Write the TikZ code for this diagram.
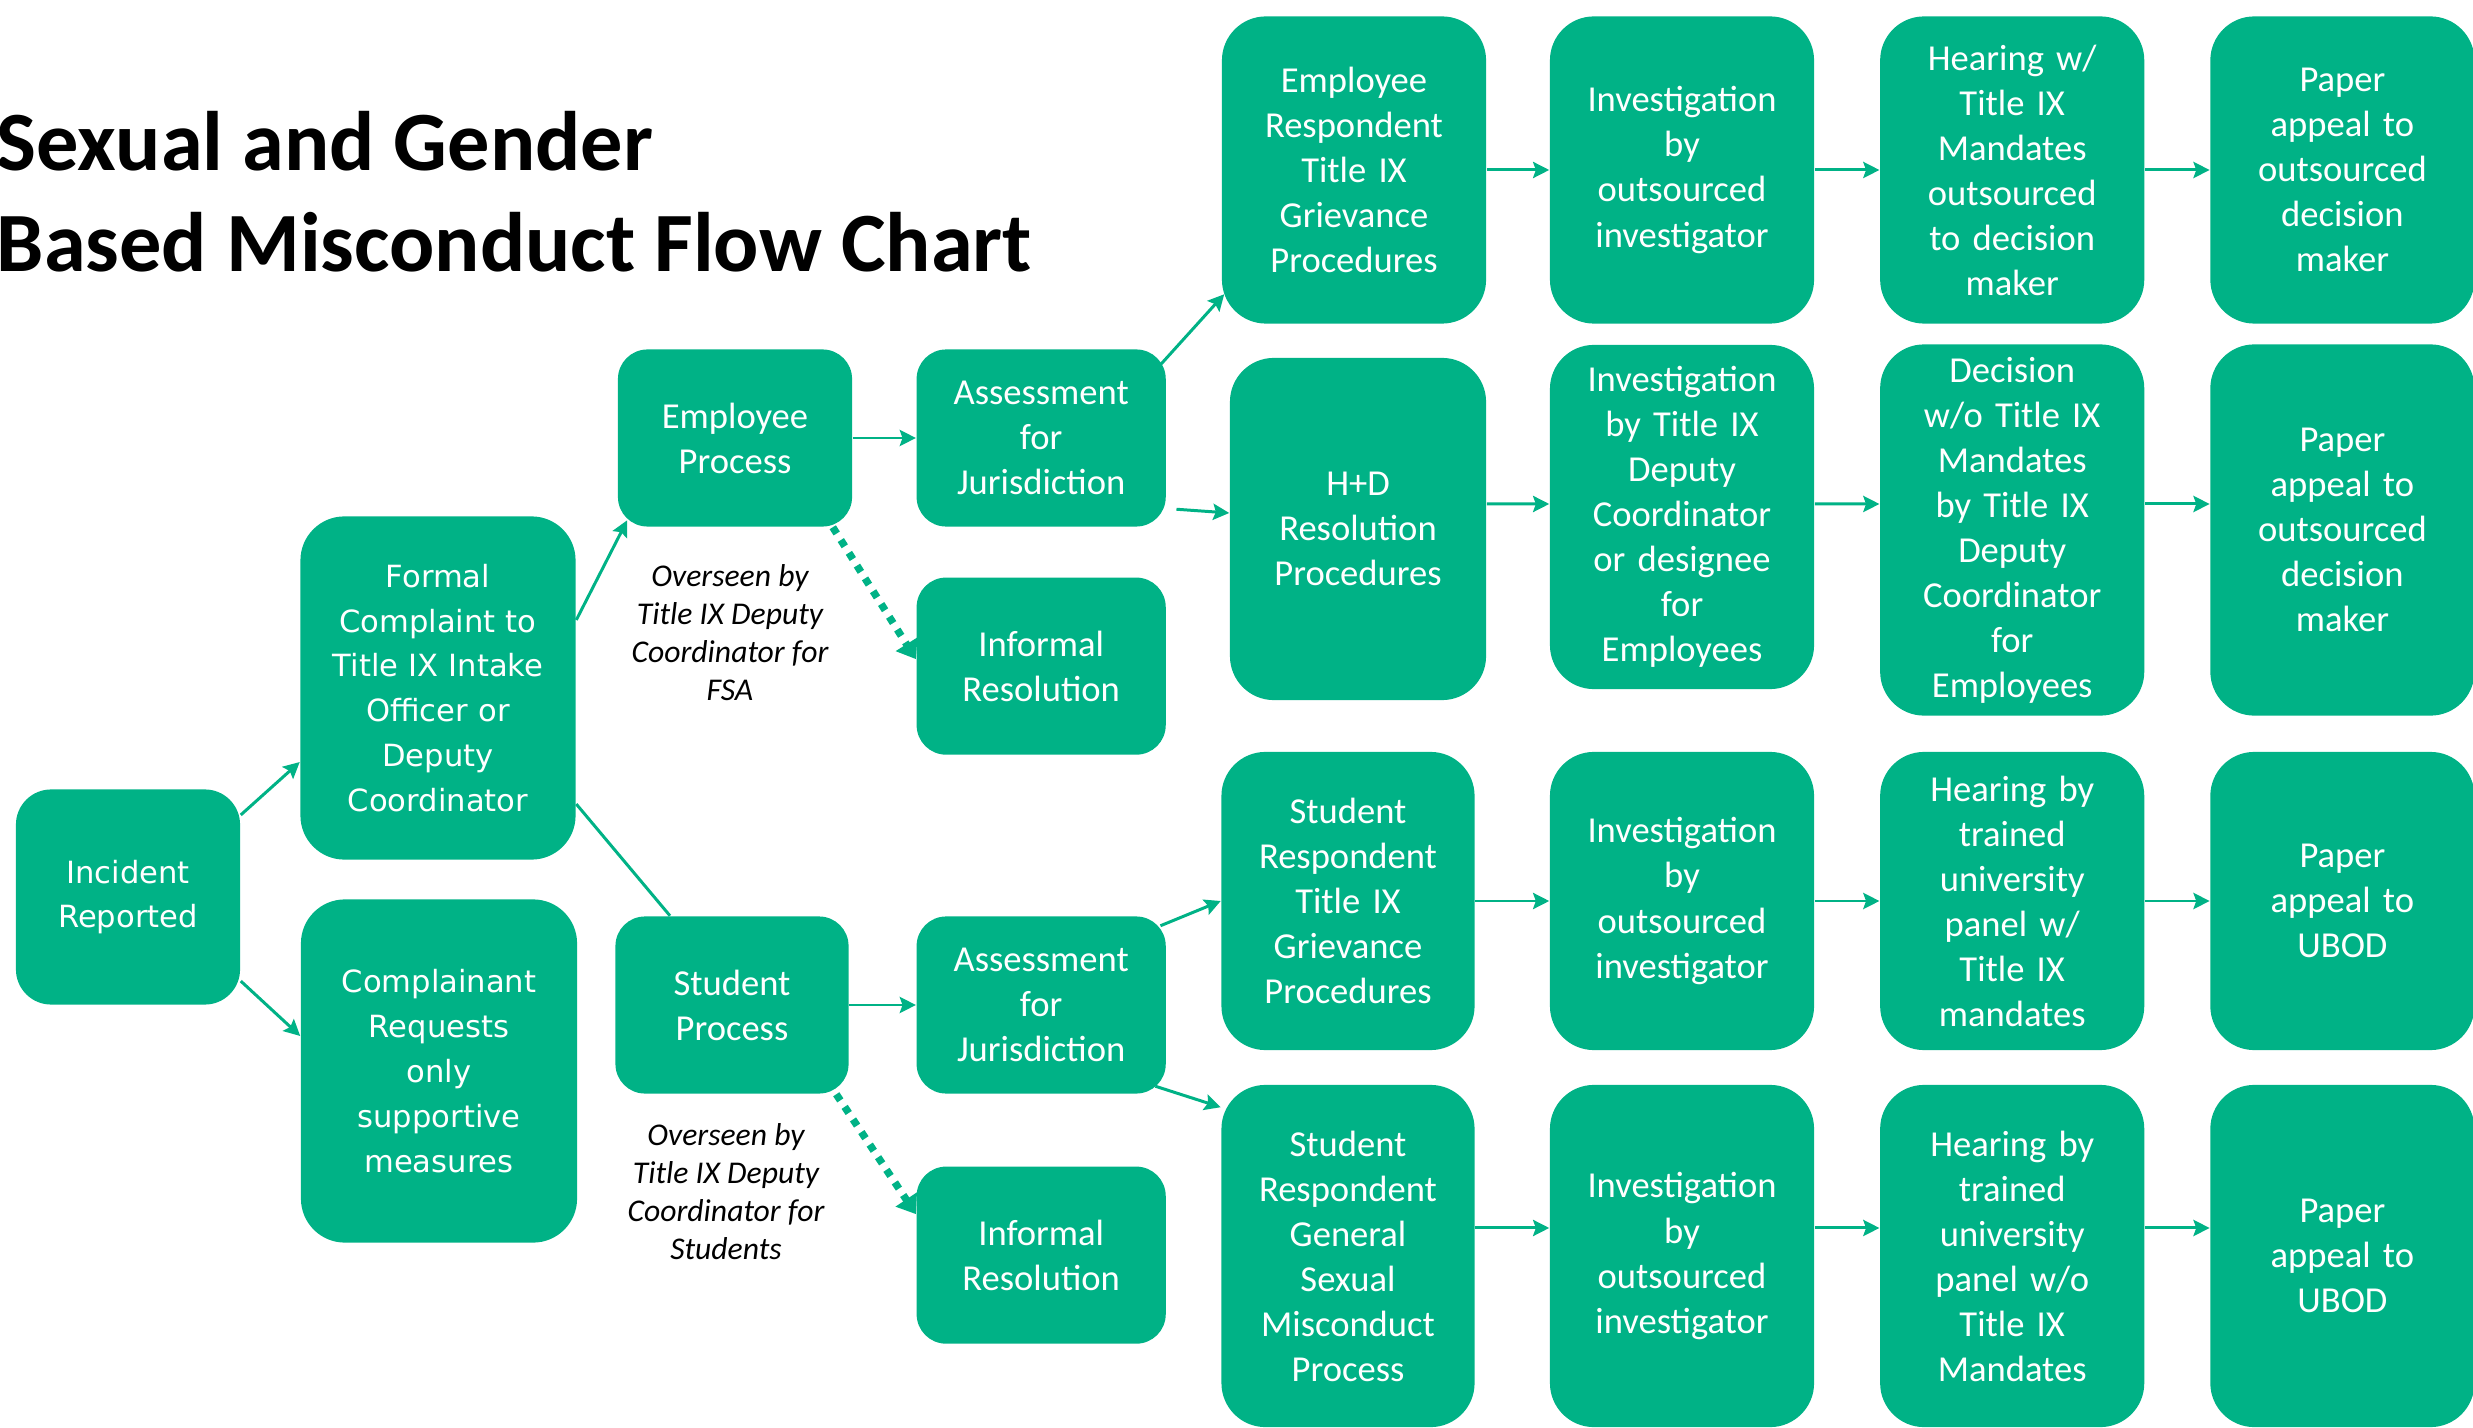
\documentclass[tikz,border=0pt]{standalone}
\usepackage{fontspec}
\setmainfont{Carlito}
\newfontfamily\wideface{DejaVu Sans}
\usetikzlibrary{arrows.meta}
\definecolor{boxgreen}{RGB}{0,178,134}

\begin{document}
\begin{tikzpicture}[x=0.01cm, y=-0.01cm, node distance=3.3cm,
  box/.style={fill=boxgreen, text=white, rounded corners=12.5pt, inner sep=0pt, align=center, font=\fontsize{10.4}{12.8}\selectfont},
  wbox/.style={box, font=\wideface\fontsize{8.7}{12.75}\selectfont},
  small/.style={text width=2.49cm, minimum height=1.77cm, rounded corners=8.4pt},
  tall/.style={text width=2.64cm, minimum height=3.07cm},
  link/.style={draw=boxgreen, line width=0.85pt},
  flow/.style={link, arrows=-{Stealth[length=4.6pt, width=4.6pt, inset=0.8pt]}},
  dots/.style={draw=boxgreen, line width=2.1pt, dash pattern=on 2.1pt off 2.2pt, arrows=-{Triangle[length=5pt, width=7pt]}},
  note/.style={align=center, inner sep=0pt, font=\itshape\fontsize{9}{10.8}\selectfont}]

\useasboundingbox (0,0) rectangle (2473,1428);

\node  (0)[anchor=west, inner sep=0pt, align=left, font=\bfseries\fontsize{24}{28.7}\selectfont] at (-4,192) {Sexual and Gender\\Based Misconduct Flow Chart};

\node  (1)[wbox, text width=2.24cm, minimum height=2.15cm, rounded corners=10pt] at (128,897) {Incident\\Reported};
\node  (2)[wbox, text width=2.75cm, minimum height=3.43cm] at (438,688) {Formal\\Complaint to\\Title IX Intake\\Officer or\\Deputy\\Coordinator};
\node  (3)[wbox, text width=2.76cm, minimum height=3.43cm] at (439,1071) {Complainant\\Requests\\only\\supportive\\measures};

\node  (4)[box, small, text width=2.34cm] at (735,438) {Employee\\Process};
\node  (5)[box, small, text width=2.33cm] at (732,1005) {Student\\Process};
\node  (6)[box, small] [node distance=3.06cm, right of = 4] {Assessment\\for\\Jurisdiction};
\node  (7)[box, small] [node distance=2.28cm, below of = 6] {Informal\\Resolution};
\node  (8)[box, small] [node distance=3.09cm, right of = 5] {Assessment\\for\\Jurisdiction};
\node  (9)[box, small] [node distance=2.5cm, below of = 8] {Informal\\Resolution};

\node  (26)[note] at (730,633) {Overseen by\\Title IX Deputy\\Coordinator for\\FSA};
\node  (27)[note] at (726,1192) {Overseen by\\Title IX Deputy\\Coordinator for\\Students};

\node  (10)[box, tall] at (1354,170) {Employee\\Respondent\\Title IX\\Grievance\\Procedures};
\node  (11)[box, tall] at (1682,170) {Investigation\\by\\outsourced\\investigator};
\node  (12)[box, tall] [  right  of = 11] {Hearing w/\\Title IX\\Mandates\\outsourced\\to decision\\maker};
\node  (13)[box, tall] [  right  of = 12] {Paper\\appeal to\\outsourced\\decision\\maker};

\node  (14)[box, tall, text width=2.56cm, minimum height=3.42cm] at (1358,529) {H+D\\Resolution\\Procedures};
\node  (15)[box, tall, minimum height=3.44cm] at (1682,517) {Investigation\\by Title IX\\Deputy\\Coordinator\\or designee\\for\\Employees};
\node  (16)[box, tall, minimum height=3.71cm] [  right  of = 15, yshift=-0.13cm] {Decision\\w/o Title IX\\Mandates\\by Title IX\\Deputy\\Coordinator\\for\\Employees};
\node  (17)[box, tall, minimum height=3.71cm] [  right  of = 16] {Paper\\appeal to\\outsourced\\decision\\maker};

\node  (18)[box, tall, text width=2.53cm, minimum height=2.98cm] at (1348,901) {Student\\Respondent\\Title IX\\Grievance\\Procedures};
\node  (19)[box, tall, minimum height=2.98cm] at (1682,901) {Investigation\\by\\outsourced\\investigator};
\node  (20)[box, tall, minimum height=2.98cm] [  right  of = 19] {Hearing by\\trained\\university\\panel w/\\Title IX\\mandates};
\node  (21)[box, tall, minimum height=2.98cm] [  right  of = 20] {Paper\\appeal to\\UBOD};

\node  (22)[box, tall, text width=2.53cm, minimum height=3.42cm] at (1348,1256) {Student\\Respondent\\General\\Sexual\\Misconduct\\Process};
\node  (23)[box, tall, minimum height=3.42cm] at (1682,1256) {Investigation\\by\\outsourced\\investigator};
\node  (24)[box, tall, minimum height=3.42cm] [  right  of = 23] {Hearing by\\trained\\university\\panel w/o\\Title IX\\Mandates};
\node  (25)[box, tall, minimum height=3.42cm] [  right  of = 24] {Paper\\appeal to\\UBOD};

\draw[flow] ([yshift=0.82cm]1.east) -- ([yshift=-0.74cm]2.west);
\draw[flow] ([yshift=-0.84cm]1.east) -- ([yshift=0.35cm]3.west);
\draw[flow] ([yshift=0.68cm]2.east) -- ([xshift=0.1cm, yshift=0.07cm]4.south west);
\draw[link] ([yshift=-1.16cm]2.east) -- ([xshift=-0.62cm]5.north);
\draw[flow] (4) -- (6);
\draw[flow] (5) -- (8);
\draw[dots] ([xshift=-0.2cm]4.south east) -- ([yshift=0.07cm]7.west);
\draw[dots] ([xshift=-0.13cm]5.south east) -- ([yshift=0.41cm]9.west);
\draw[flow] ([xshift=-0.06cm, yshift=-0.16cm]6.north east) -- ([xshift=0.03cm, yshift=0.3cm]10.south west);
\draw[flow] ([xshift=0.1cm, yshift=0.18cm]6.south east) -- ([yshift=0.16cm]14.west);
\draw[flow] ([xshift=-0.06cm, yshift=-0.1cm]8.north east) -- (18.west);
\draw[flow] ([xshift=-0.11cm, yshift=0.08cm]8.south east) -- ([yshift=-0.23cm]22.north west);

\draw[flow] (10) -- (11);
\draw[flow] (11) -- (12);
\draw[flow] (12) -- (13);
\draw[flow] ([yshift=0.25cm]14.east) -- ([yshift=0.13cm]15.west);
\draw[flow] ([yshift=0.13cm]15.east) -- ([yshift=0.26cm]16.west);
\draw[flow] ([yshift=0.26cm]16.east) -- ([yshift=0.26cm]17.west);
\draw[flow] (18) -- (19);
\draw[flow] (19) -- (20);
\draw[flow] (20) -- (21);
\draw[flow] ([yshift=0.28cm]22.east) -- ([yshift=0.28cm]23.west);
\draw[flow] ([yshift=0.28cm]23.east) -- ([yshift=0.28cm]24.west);
\draw[flow] ([yshift=0.28cm]24.east) -- ([yshift=0.28cm]25.west);

\end{tikzpicture}
\end{document}
